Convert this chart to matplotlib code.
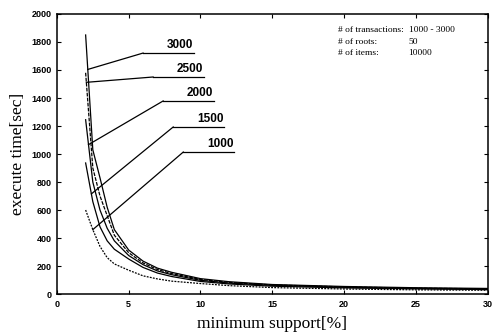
import numpy as np
import matplotlib
matplotlib.use("Agg")
import matplotlib.pyplot as plt

# minimum support [%]
support = [2, 2.5, 3, 3.5, 4, 5, 6, 7, 8, 10, 12, 15, 20, 25, 30]

# execute time [sec] per number of transactions
time_3000 = [1850, 1030, 830, 620, 460, 314, 235, 185, 155, 110, 88, 68, 54, 45, 40]
time_2500 = [1580, 900, 700, 560, 420, 295, 222, 175, 146, 104, 83, 65, 51, 42, 37]
time_2000 = [1245, 800, 600, 470, 380, 275, 210, 165, 138, 98, 78, 62, 48, 40, 35]
time_1500 = [936, 660, 480, 380, 320, 250, 190, 150, 125, 90, 72, 56, 44, 37, 32]
time_1000 = [600, 460, 340, 260, 215, 170, 130, 108, 92, 75, 60, 46, 36, 30, 27]

series_labels = ["3000", "2500", "2000", "1500", "1000"]
info_names = ["# of transactions:", "# of roots:", "# of items:"]
info_values = ["1000 - 3000", "50", "10000"]

fig = plt.figure(figsize=(4.95, 3.33), dpi=100)
ax = fig.add_axes([0.115, 0.117, 0.870, 0.841])

series = [time_3000, time_2500, time_2000, time_1500, time_1000]
styles = ["-", (0, (3, 1)), "-", "-", (0, (1.5, 1))]
for values, ls in zip(series, styles):
    ax.plot(support, values, color="black", lw=0.9, linestyle=ls)

# leader lines with underlined labels
leader_x = [2.15, 2.05, 2.2, 2.4, 2.5]
label_left = [6.0, 6.7, 7.4, 8.1, 8.8]
label_y = [1721, 1550, 1379, 1193, 1014]
for values, lab, lx, tx, ty in zip(series, series_labels, leader_x, label_left, label_y):
    py = np.interp(lx, support, values)
    ax.plot([lx, tx], [py, ty], color="black", lw=0.9)
    ax.plot([tx, tx + 3.55], [ty, ty], color="black", lw=0.9)
    ax.text(tx + 3.5, ty + 15, lab, ha="right", va="bottom",
            fontsize=8.5, fontweight="bold", family="Liberation Sans")

info_y = [1886, 1800, 1721]
for name, val, y in zip(info_names, info_values, info_y):
    ax.text(19.6, y, name, fontsize=6.8, family="Liberation Serif", va="center")
    ax.text(24.5, y, val, fontsize=6.8, family="Liberation Serif", va="center")

ax.set_xlim(0, 30)
ax.set_ylim(0, 2000)
ax.set_xticks(np.arange(0, 31, 5))
ax.set_yticks(np.arange(0, 2001, 200))
ax.tick_params(direction="in", top=True, right=True, length=3, width=0.8, pad=4)
for lab in ax.get_xticklabels() + ax.get_yticklabels():
    lab.set_fontsize(6.5)
    lab.set_fontweight("bold")
    lab.set_family("Liberation Sans")
for sp in ax.spines.values():
    sp.set_linewidth(1.1)

ax.set_xlabel("minimum support[%]", fontsize=12.5, family="Liberation Serif", labelpad=5)
ax.set_ylabel("execute time[sec]", fontsize=12.5, family="Liberation Serif", labelpad=4)

fig.savefig("out.png", dpi=100)
